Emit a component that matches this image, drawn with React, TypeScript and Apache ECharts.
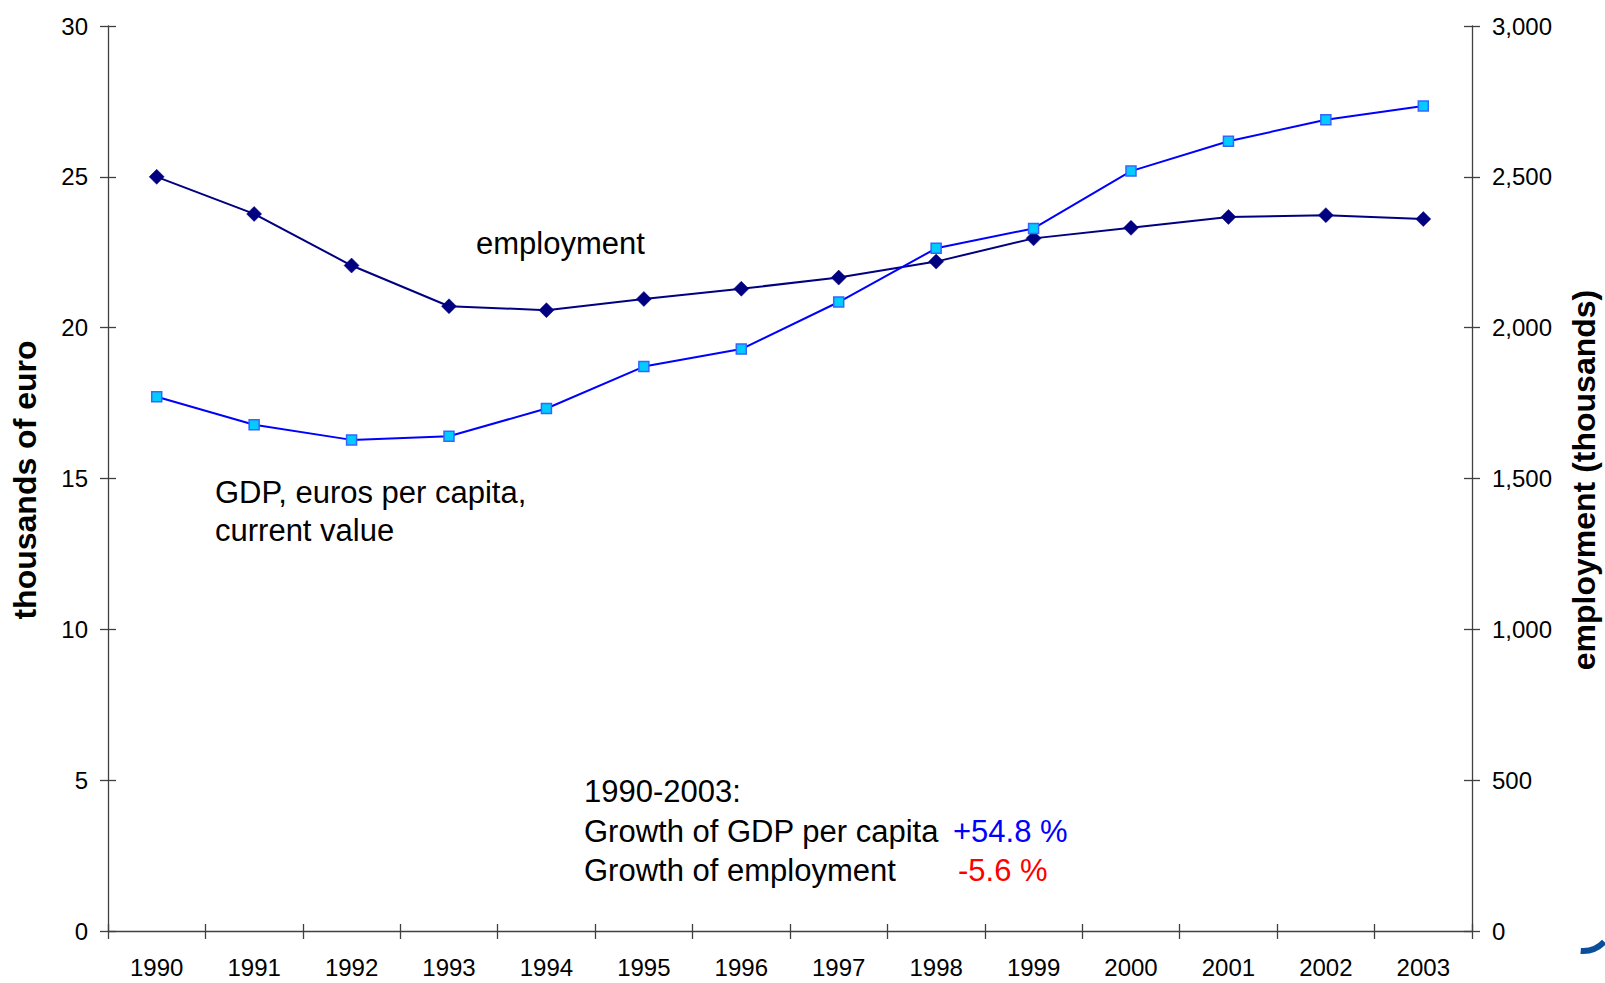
import React, { useEffect, useRef } from "react";
import * as echarts from "echarts";

const years = ["1990","1991","1992","1993","1994","1995","1996","1997","1998","1999","2000","2001","2002","2003"];
const gdpPerCapita = [17.71, 16.78, 16.28, 16.40, 17.32, 18.71, 19.29, 20.85, 22.63, 23.29, 25.19, 26.18, 26.89, 27.35];
const employment = [2500, 2377, 2206, 2071, 2058, 2095, 2129, 2166, 2219, 2296, 2331, 2367, 2373, 2360];

const FONT = "'Liberation Sans', Arial, sans-serif";
const AXIS_COLOR = "#404040";

export default function App() {
  const ref = useRef<HTMLDivElement>(null);
  useEffect(() => {
    document.body.style.margin = "0";
    if (!ref.current) return;
    const chart = echarts.init(ref.current, undefined, { renderer: "svg" });
    const baseX = {
      type: "category",
      data: years,
      boundaryGap: true,
      position: "bottom",
      splitLine: { show: false },
    };
    const baseY = { type: "value", splitLine: { show: false } };
    const txt = (text: string, x: number, y: number, fill = "#000") => ({
      type: "text", x, y,
      style: { text, font: `31px ${FONT}`, fill, textAlign: "left", textVerticalAlign: "middle" },
    });
    chart.setOption({
      animation: false,
      backgroundColor: "#ffffff",
      grid: { left: 108, right: 133, top: 26, bottom: 52, containLabel: false },
      xAxis: [
        {
          ...baseX,
          axisLine: { show: true, lineStyle: { color: AXIS_COLOR, width: 1.3 } },
          axisTick: { show: true, inside: false, length: 8, alignWithLabel: false, lineStyle: { color: AXIS_COLOR, width: 1.3 } },
          axisLabel: { show: true, color: "#000", fontSize: 24, fontFamily: FONT, margin: 24, interval: 0 },
        },
        {
          ...baseX,
          axisLine: { show: false },
          axisTick: { show: true, inside: true, length: 7, alignWithLabel: false, lineStyle: { color: AXIS_COLOR, width: 1.3 } },
          axisLabel: { show: false },
        },
      ],
      yAxis: [
        {
          ...baseY,
          position: "left",
          min: 0, max: 30, interval: 5,
          axisLine: { show: true, lineStyle: { color: AXIS_COLOR, width: 1.3 } },
          axisTick: { show: true, inside: false, length: 8, lineStyle: { color: AXIS_COLOR, width: 1.3 } },
          axisLabel: { show: true, color: "#000", fontSize: 24, fontFamily: FONT, margin: 20 },
        },
        {
          ...baseY,
          position: "left",
          min: 0, max: 30, interval: 5,
          axisLine: { show: false },
          axisTick: { show: true, inside: true, length: 8, lineStyle: { color: AXIS_COLOR, width: 1.3 } },
          axisLabel: { show: false },
        },
        {
          ...baseY,
          position: "right",
          min: 0, max: 3000, interval: 500,
          axisLine: { show: true, lineStyle: { color: AXIS_COLOR, width: 1.3 } },
          axisTick: { show: true, inside: false, length: 8, lineStyle: { color: AXIS_COLOR, width: 1.3 } },
          axisLabel: {
            show: true, color: "#000", fontSize: 24, fontFamily: FONT, margin: 20,
            formatter: (v: number) => v.toLocaleString("en-US"),
          },
        },
        {
          ...baseY,
          position: "right",
          min: 0, max: 3000, interval: 500,
          axisLine: { show: false },
          axisTick: { show: true, inside: true, length: 8, lineStyle: { color: AXIS_COLOR, width: 1.3 } },
          axisLabel: { show: false },
        },
      ],
      series: [
        {
          name: "employment",
          type: "line",
          xAxisIndex: 0,
          yAxisIndex: 2,
          data: employment,
          symbol: "diamond",
          symbolSize: 15,
          lineStyle: { color: "#000080", width: 2 },
          itemStyle: { color: "#000080", borderColor: "#000080", borderWidth: 0.5 },
          z: 3,
        },
        {
          name: "GDP, euros per capita, current value",
          type: "line",
          xAxisIndex: 0,
          yAxisIndex: 0,
          data: gdpPerCapita,
          symbol: "rect",
          symbolSize: 10,
          lineStyle: { color: "#0000ff", width: 2 },
          itemStyle: { color: "#00ccff", borderColor: "#3366ff", borderWidth: 1.5 },
          z: 4,
        },
      ],
      graphic: [
        {
          type: "text", x: 25, y: 480, rotation: Math.PI / 2,
          style: { text: "thousands of euro", font: `bold 32px ${FONT}`, fill: "#000", textAlign: "center", textVerticalAlign: "middle" },
        },
        {
          type: "text", x: 1584, y: 480, rotation: Math.PI / 2,
          style: { text: "employment (thousands)", font: `bold 32px ${FONT}`, fill: "#000", textAlign: "center", textVerticalAlign: "middle" },
        },
        txt("employment", 476, 243),
        txt("GDP, euros per capita,", 215, 492),
        txt("current value", 215, 530),
        txt("1990-2003:", 584, 791),
        txt("Growth of GDP per capita", 584, 831),
        txt("Growth of employment", 584, 870),
        txt("+54.8 %", 953, 831, "#0000ff"),
        txt("-5.6 %", 958, 870, "#ff0000"),
        {
          type: "arc",
          shape: { cx: 1583, cy: 922, r: 29, startAngle: 0.75, endAngle: 1.65, clockwise: true },
          style: { stroke: "#0b4f9c", lineWidth: 6, fill: "none" },
        },
      ],
    });
    return () => chart.dispose();
  }, []);
  return <div ref={ref} style={{ width: 1605, height: 983 }} />;
}
